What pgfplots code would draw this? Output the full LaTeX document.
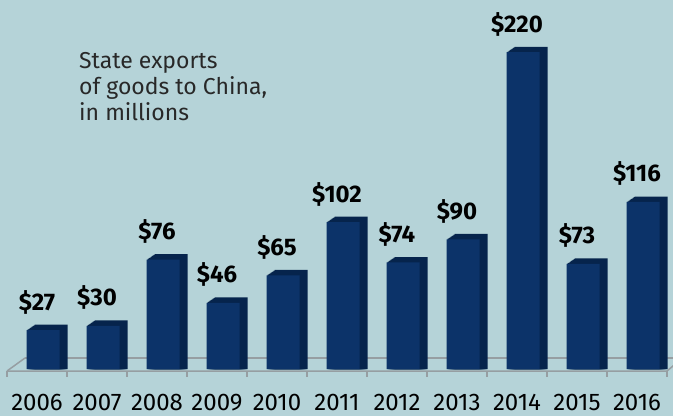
\documentclass[border=0pt]{standalone}
\usepackage{fontspec}
\setmainfont{Fira Sans}
\usepackage{pgfplots}
\pgfplotsset{compat=1.18}
\usepackage{pgfplotstable}
\definecolor{bg}{RGB}{181,211,216}
\definecolor{barfront}{RGB}{12,51,105}
\definecolor{barside}{RGB}{6,36,76}
\definecolor{floorgray}{RGB}{150,158,162}
\definecolor{titlegray}{RGB}{40,40,40}

\pgfplotstableread{
x y
0 27
1 30
2 76
3 46
4 65
5 102
6 74
7 90
8 220
9 73
10 116
}\exports

\begin{document}
\begin{tikzpicture}[x=1pt,y=1pt]
\useasboundingbox (0,0) rectangle (673,416);
\fill[bg] (0,0) rectangle (673,416);
% floor of the 3d chart
\draw[floorgray, line width=1.5pt] (25,58) -- (700,58);
\draw[floorgray, line width=1.5pt] (7,45) -- (25,58);
\draw[floorgray, line width=1.5pt] (7,45) -- (667,45) -- (685,60);
\foreach \k in {0,...,11} \draw[floorgray, line width=1.5pt] (7+60*\k,45) -- (7+60*\k,39);
% title
\node[anchor=base west, inner sep=0, text=titlegray, font=\fontsize{23}{23}\selectfont] at (79,347) {State exports};
\node[anchor=base west, inner sep=0, text=titlegray, font=\fontsize{23}{23}\selectfont] at (79,321) {of goods to China,};
\node[anchor=base west, inner sep=0, text=titlegray, font=\fontsize{23}{23}\selectfont] at (79,295) {in millions};
\begin{axis}[
    at={(7pt,47pt)}, anchor=south west,
    scale only axis, width=660pt, height=345.6pt,
    xmin=-0.5, xmax=10.5, ymin=0, ymax=240,
    clip=false,
    axis line style={draw=none},
    major tick length=0pt,
    ytick=\empty,
    xtick={0,...,10},
    xticklabels={2006,2007,2008,2009,2010,2011,2012,2013,2014,2015,2016},
    xticklabel style={anchor=base, inner sep=0pt, yshift=-41pt, font=\fontsize{24}{24}\selectfont},
    /pgf/number format/assume math mode=true,
    bar width=33pt,
  ]
  % side and top faces: copies of the bar pushed back step by step
  \pgfplotsinvokeforeach{8,7,6,5,4,3,2,1}{
    \addplot[ybar, bar shift=6pt+#1pt, fill=barside, draw=none]
      table[x=x, y expr=\thisrow{y}+0.472*#1] {\exports};
  }
  % front faces
  \addplot[ybar, bar shift=6pt, fill=barfront, draw=none,
    nodes near coords={\$\pgfmathprintnumber{\pgfplotspointmeta}},
    nodes near coords style={anchor=base, inner sep=0pt, yshift=20pt, text=black, font=\bfseries\fontsize{24}{24}\selectfont},
  ] table[x=x,y=y] {\exports};
\end{axis}
\end{tikzpicture}
\end{document}
